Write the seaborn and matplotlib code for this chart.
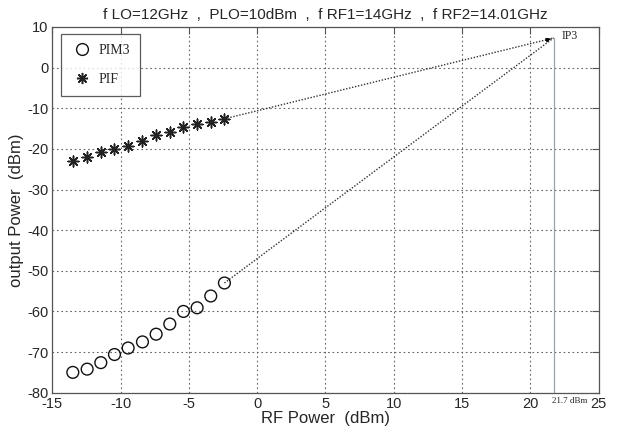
import numpy as np
import matplotlib
matplotlib.use("Agg")
import matplotlib.pyplot as plt
import seaborn as sns

# Data
rf_power = [-13.5, -12.45, -11.45, -10.45, -9.45, -8.4, -7.4, -6.4, -5.4, -4.4, -3.4, -2.4]
pif = [-23.0, -22.0, -20.8, -20.1, -19.3, -18.1, -16.5, -15.9, -14.6, -13.9, -13.3, -12.6]
pim3 = [-75.0, -74.2, -72.6, -70.6, -69.0, -67.5, -65.6, -63.1, -60.0, -59.1, -56.2, -53.0]
ip3_x = 21.7
ip3_y = 7.3
x_ticks = [-15, -10, -5, 0, 5, 10, 15, 20, 25]
y_ticks = [-80, -70, -60, -50, -40, -30, -20, -10, 0, 10]

sns.set_style("white")
plt.rcParams["font.family"] = ["Liberation Sans", "DejaVu Sans"]
plt.rcParams["axes.unicode_minus"] = False

fig = plt.figure(figsize=(6.17, 4.29), dpi=100)
ax = fig.add_axes([0.0848, 0.0846, 0.8855, 0.8525])

# extrapolation lines to IP3
ax.plot([rf_power[-1], ip3_x], [pif[-1], ip3_y], ls=(0, (1, 1.2)), color="#333333", lw=1.0)
ax.plot([rf_power[-1], ip3_x], [pim3[-1], ip3_y], ls=(0, (1, 1.2)), color="#333333", lw=1.0)
ax.plot([ip3_x, ip3_x], [-80, ip3_y], color="#9aa3a8", lw=0.9)
ax.annotate("", xy=(ip3_x, ip3_y), xytext=(ip3_x - 0.8, ip3_y - 0.8),
            arrowprops=dict(arrowstyle="-|>", color="black", lw=0.6, mutation_scale=7))

sns.scatterplot(x=rf_power, y=pim3, ax=ax, marker="o", s=72, facecolor="none",
                edgecolor="#111111", linewidth=1.0, zorder=3)
sns.scatterplot(x=rf_power, y=pif, ax=ax, marker=(8, 2, 0), s=60, color="#222222",
                linewidth=1.1, zorder=3)

ax.text(ip3_x + 0.6, ip3_y + 0.5, "IP3", fontsize=8.5, family="Liberation Serif",
        va="center", ha="left")
ax.text(ip3_x - 0.1, -81.0, "21.7 dBm", fontsize=6.5, family="Liberation Serif",
        va="top", ha="left")

ax.set_xlim(-15, 25)
ax.set_ylim(-80, 10)
ax.set_xticks(x_ticks)
ax.set_yticks(y_ticks)
ax.grid(True, ls=(0, (1.5, 2.5)), color="#666666", lw=0.8)
ax.tick_params(direction="in", length=5, width=0.8, color="#555555",
               top=True, right=True, labelsize=10.5, pad=3)
for sp in ax.spines.values():
    sp.set_color("#555555")
    sp.set_linewidth(0.9)

ax.set_xlabel("RF Power  (dBm)", fontsize=12, labelpad=0)
ax.set_ylabel("output Power  (dBm)", fontsize=12, labelpad=2)
ax.set_title("f LO=12GHz  ,  PLO=10dBm  ,  f RF1=14GHz  ,  f RF2=14.01GHz",
             fontsize=11, pad=6)

# legend as drawn in the reference
h1 = plt.Line2D([], [], marker="o", ls="", markersize=8.5, markerfacecolor="none",
                markeredgecolor="#111111", markeredgewidth=1.0)
h2 = plt.Line2D([], [], marker=(8, 2, 0), ls="", markersize=8, color="#222222",
                markeredgewidth=1.1)
leg = ax.legend([h1, h2], ["PIM3", "PIF"], loc="upper left",
                bbox_to_anchor=(0.016, 0.981), prop={"family": "Liberation Serif", "size": 10},
                frameon=True, fancybox=False, borderpad=0.7, labelspacing=1.2,
                handletextpad=0.4, handlelength=1.6, borderaxespad=0)
leg.get_frame().set_edgecolor("#333333")
leg.get_frame().set_linewidth(0.9)

fig.savefig("out.png", dpi=100)
